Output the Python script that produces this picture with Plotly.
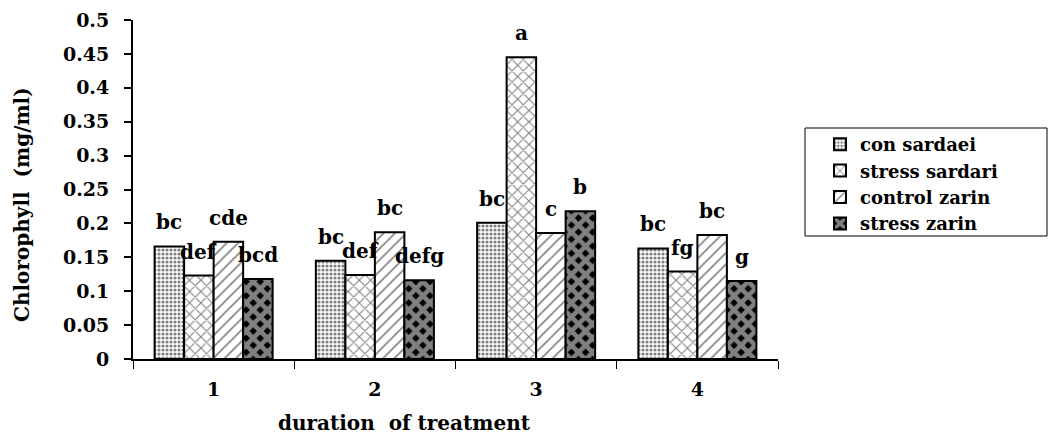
import plotly.graph_objects as go

categories = [1, 2, 3, 4]
tick_labels = ["1", "2", "3", "4"]
series_names = ["con sardaei", "stress sardari", "control zarin", "stress zarin"]
con_sardaei = [0.166, 0.145, 0.201, 0.163]
stress_sardari = [0.123, 0.124, 0.445, 0.129]
control_zarin = [0.173, 0.187, 0.186, 0.183]
stress_zarin = [0.118, 0.116, 0.218, 0.115]
letters_con_sardaei = ["bc", "bc", "bc", "bc"]
letters_stress_sardari = ["def", "def", "a", "fg"]
letters_control_zarin = ["cde", "bc", "c", "bc"]
letters_stress_zarin = ["bcd", "defg", "b", "g"]

values = [con_sardaei, stress_sardari, control_zarin, stress_zarin]
letters = [letters_con_sardaei, letters_stress_sardari, letters_control_zarin, letters_stress_zarin]

FONT = "DejaVu Serif"
bar_w = 0.183
offsets = [-2 * bar_w, -bar_w, 0.0, bar_w]

patterns = [
    dict(shape=".", fgcolor="black", bgcolor="white", size=4, solidity=0.5),
    dict(shape="x", fgcolor="black", bgcolor="white", size=8, solidity=0.25),
    dict(shape="/", fgcolor="black", bgcolor="white", size=8, solidity=0.2),
    dict(shape="x", fgcolor="white", fillmode="overlay", size=10, solidity=0.72),
]
colors = ["white", "white", "white", "black"]

# figure-pixel geometry (page has an 8px body margin)
W, H = 1049, 431
PX_L, PX_R, PX_T, PX_B = 125, 770, 12, 351


def px2paper(px, py):
    return (px - PX_L) / (PX_R - PX_L), (PX_B - py) / (PX_B - PX_T)


fig = go.Figure()
annotations = []
for i in range(4):
    fig.add_trace(go.Bar(
        x=categories, y=values[i], name=series_names[i],
        width=bar_w, offset=offsets[i],
        marker=dict(color=colors[i], line=dict(color="black", width=2), pattern=patterns[i]),
    ))
    for c, v, t in zip(categories, values[i], letters[i]):
        annotations.append(dict(
            x=c + offsets[i] + bar_w / 2, y=v, xref="x", yref="y", text="<b>%s</b>" % t,
            showarrow=False, xanchor="center", yanchor="bottom", yshift=10,
            font=dict(family=FONT, size=20, color="black"),
        ))

xt_x, xt_y = px2paper(396, 415)
yt_x, yt_y = px2paper(14, 196)
annotations.append(dict(x=xt_x, y=xt_y, xref="paper", yref="paper", showarrow=False,
                        xanchor="center", yanchor="middle",
                        text="<b>duration  of treatment</b>", font=dict(family=FONT, size=20, color="black")))
annotations.append(dict(x=yt_x, y=yt_y, xref="paper", yref="paper", showarrow=False, textangle=-90,
                        xanchor="center", yanchor="middle",
                        text="<b>Chlorophyll  (mg/ml)</b>", font=dict(family=FONT, size=20, color="black")))

bx0, by1 = px2paper(797, 120)
bx1, by0 = px2paper(1039, 228)
lx, ly = px2paper(812, 118)

fig.update_layout(
    width=W, height=H,
    margin=dict(l=PX_L, r=W - PX_R, t=PX_T, b=H - PX_B, autoexpand=False),
    plot_bgcolor="white", paper_bgcolor="white",
    barmode="overlay",
    font=dict(family=FONT, size=19, color="black"),
    showlegend=True,
    legend=dict(
        x=lx, y=ly, xanchor="left", yanchor="top",
        borderwidth=0, bgcolor="rgba(0,0,0,0)",
        font=dict(family=FONT, size=18, color="black", weight="bold"),
        tracegroupgap=0, itemwidth=30,
    ),
    shapes=[dict(type="rect", xref="paper", yref="paper", x0=bx0, x1=bx1, y0=by0, y1=by1,
                 line=dict(color="black", width=1), fillcolor="rgba(0,0,0,0)", layer="below")],
    annotations=annotations,
)
fig.update_xaxes(
    range=[0.5, 4.5], tickvals=categories, ticktext=["<b>%s</b>" % t for t in tick_labels],
    ticks="", showline=True, linecolor="black", linewidth=2, showgrid=False, zeroline=False,
    ticklabelstandoff=12, automargin=False,
    minor=dict(tick0=0.5, dtick=1, ticks="outside", ticklen=8, tickcolor="black", tickwidth=1),
    tickfont=dict(family=FONT, size=19),
)
fig.update_yaxes(
    range=[0, 0.5], dtick=0.05, tick0=0, ticks="outside", ticklen=7, tickcolor="black", tickwidth=2,
    showline=True, linecolor="black", linewidth=2, showgrid=False, zeroline=False,
    tickfont=dict(family=FONT, size=19, weight="bold"), ticklabelstandoff=11, automargin=False,
)

fig.write_html("out.html")
